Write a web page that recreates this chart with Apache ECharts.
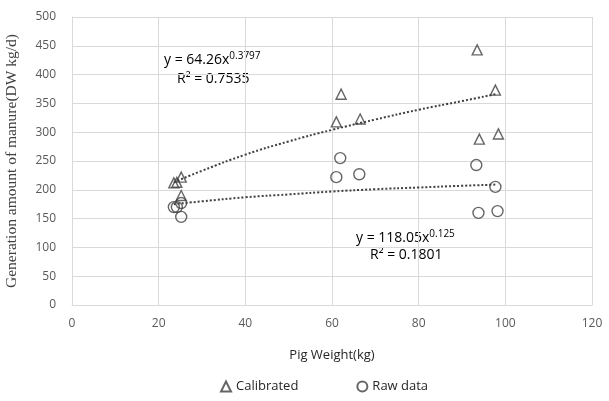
<!DOCTYPE html>
<html>
<head>
<meta charset="utf-8">
<script src="https://cdn.jsdelivr.net/npm/echarts@6/dist/echarts.min.js"></script>
<style>
  html, body { margin: 0; padding: 0; background: #fff; }
  #chart { width: 609px; height: 401px; }
</style>
</head>
<body>
<div id="chart"></div>
<script>
// 散点数据 [体重kg, 粪便量]
const calibrated = [
  [23.5, 212], [24.2, 213], [25.2, 222], [25.2, 190],
  [61.0, 318], [62.1, 366], [66.5, 323],
  [93.5, 443], [94.0, 288], [97.7, 373], [98.4, 297]
];
const rawData = [
  [23.5, 170], [24.2, 170], [25.2, 177], [25.2, 153],
  [61.0, 222], [61.9, 255], [66.3, 227],
  [93.3, 243], [93.8, 160], [97.7, 205], [98.2, 163]
];
// 趋势线
const calTrend = [[23.5, 213], [30, 233], [40, 261], [50, 284], [60, 304], [70, 322], [80, 339], [90, 354], [97.7, 366]];
const rawTrend = [[23.5, 175], [30, 180], [40, 187], [50, 192], [60, 197], [70, 201], [80, 204], [90, 207], [97.7, 209]];
const xTicks = [0, 20, 40, 60, 80, 100, 120];
const yTicks = [0, 50, 100, 150, 200, 250, 300, 350, 400, 450, 500];

const myChart = echarts.init(document.getElementById('chart'));
const markStyle = { color: 'rgba(255,255,255,0)', borderColor: '#404040', borderWidth: 1.4 };
const trendStyle = { color: '#404040', width: 2, type: [2, 2] };
const tickFont = { color: '#595959', fontSize: 12, fontFamily: 'Open Sans' };
const eqRich = {
  b: { fontSize: 14, fontFamily: 'Open Sans', color: '#262626', lineHeight: 19, verticalAlign: 'middle' },
  s: { fontSize: 10, fontFamily: 'Open Sans', color: '#262626', lineHeight: 11, verticalAlign: 'top' }
};

const option = {
  animation: false,
  grid: { left: 72, right: 17, top: 17, bottom: 96, outerBoundsMode: 'none' },
  legend: {
    bottom: 3,
    left: 215,
    itemGap: 58,
    itemWidth: 10,
    itemHeight: 10,
    data: ['Calibrated', 'Raw data'],
    textStyle: { color: '#262626', fontSize: 13, fontFamily: 'Open Sans' }
  },
  xAxis: {
    type: 'value',
    min: xTicks[0], max: xTicks[xTicks.length - 1], interval: 20,
    name: 'Pig Weight(kg)',
    nameLocation: 'middle',
    nameGap: 44,
    nameTextStyle: { color: '#262626', fontSize: 13, fontFamily: 'Open Sans' },
    axisLine: { show: true, lineStyle: { color: '#d9d9d9' } },
    axisTick: { show: false },
    axisLabel: Object.assign({ margin: 13 }, tickFont),
    splitLine: { show: true, lineStyle: { color: '#d9d9d9' } }
  },
  yAxis: {
    type: 'value',
    min: yTicks[0], max: yTicks[yTicks.length - 1], interval: 50,
    name: 'Generation amount of manure(DW kg/d)',
    nameLocation: 'middle',
    nameGap: 52,
    nameTextStyle: { color: '#404040', fontSize: 15.5, fontFamily: 'Liberation Serif' },
    axisLine: { show: true, lineStyle: { color: '#d9d9d9' } },
    axisTick: { show: false },
    axisLabel: Object.assign({ margin: 16 }, tickFont),
    splitLine: { show: true, lineStyle: { color: '#d9d9d9' } }
  },
  series: [
    {
      name: 'Calibrated', type: 'scatter', symbol: 'triangle', symbolSize: 10,
      itemStyle: markStyle, data: calibrated, z: 3
    },
    {
      name: 'Raw data', type: 'scatter', symbol: 'circle', symbolSize: 11,
      itemStyle: markStyle, data: rawData, z: 3
    },
    {
      name: 'calTrend', type: 'line', smooth: true, symbol: 'none',
      lineStyle: trendStyle, data: calTrend, z: 2
    },
    {
      name: 'rawTrend', type: 'line', smooth: true, symbol: 'none',
      lineStyle: trendStyle, data: rawTrend, z: 2
    }
  ],
  graphic: [
    { type: 'text', left: 164, top: 51, style: { text: '{b|y = 64.26x}{s|0.3797}', rich: eqRich } },
    { type: 'text', left: 177, top: 72, style: { text: '{b|R² = 0.7535}', rich: eqRich } },
    { type: 'text', left: 356, top: 229, style: { text: '{b|y = 118.05x}{s|0.125}', rich: eqRich } },
    { type: 'text', left: 370, top: 248, style: { text: '{b|R² = 0.1801}', rich: eqRich } }
  ]
};
myChart.setOption(option);
</script>
</body>
</html>
